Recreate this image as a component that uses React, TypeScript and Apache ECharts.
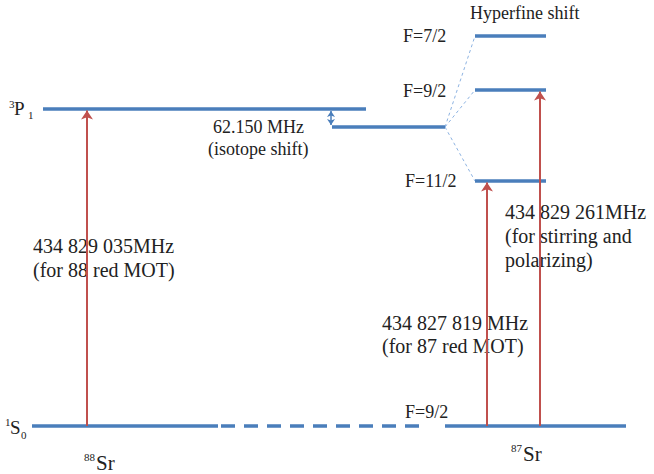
import React, { useEffect, useRef } from "react";
import * as echarts from "echarts";

// Energy levels: horizontal extent and height above the 1S0 ground level (schematic units)
const levelNames = ["3P1 (88Sr)", "1S0 (88Sr)", "1S0 (87Sr)", "3P1 (87Sr)", "F=7/2", "F=9/2", "F=11/2"];
const levelStart = [43, 32, 445, 332, 475, 475, 475];
const levelEnd = [366, 218, 626, 445, 546, 546, 546];
const levelEnergy = [317, 0, 0, 299, 390, 336, 245];

// dashed break of the ground level between the two isotopes
const groundBreak = [221, 421];

// hyperfine splitting: from the 87Sr 3P1 centre to the F sub-levels
const hyperfineOrigin = { x: 445, e: 299 };
const hyperfineLevels = [4, 5, 6];

// laser transitions (from 1S0 up to the level)
const transitionX = [87, 487, 540];
const transitionTarget = [317, 245, 336];
const transitionLabels = [
  "434 829 035MHz\n(for 88 red MOT)",
  "434 827 819 MHz\n(for 87 red MOT)",
  "434 829 261MHz\n(for stirring and\npolarizing)",
];

// isotope shift
const isotopeShiftX = 331;
const isotopeShiftLabel = "62.150 MHz\n(isotope shift)";

const BLUE = "#4a7ebb";
const RED = "#c0504d";
const TEXT = "#222";
const SERIF = "Liberation Serif";

type Ann = {
  text: string;
  x: number;
  e: number;
  size: number;
  center?: boolean;
  lh?: number;
};

const annotations: Ann[] = [
  { text: "Hyperfine shift", x: 470, e: 413, size: 18 },
  { text: "F=7/2", x: 403, e: 390, size: 18 },
  { text: "F=9/2", x: 403, e: 335, size: 18 },
  { text: "F=11/2", x: 405, e: 245, size: 18 },
  { text: "F=9/2", x: 405, e: 14, size: 18 },
  { text: isotopeShiftLabel, x: 258, e: 288, size: 18, center: true, lh: 22 },
  { text: transitionLabels[0], x: 104, e: 168, size: 20, center: true, lh: 24 },
  { text: transitionLabels[1], x: 382, e: 92, size: 20, lh: 23 },
  { text: transitionLabels[2], x: 505, e: 190, size: 20, lh: 24 },
  // term symbols and isotopes (with super/subscripts)
  { text: "3", x: 9, e: 323, size: 11 },
  { text: "P", x: 14, e: 318, size: 19 },
  { text: "1", x: 28, e: 312, size: 11 },
  { text: "1", x: 5, e: 5, size: 11 },
  { text: "S", x: 10, e: -1, size: 19 },
  { text: "0", x: 21, e: -8, size: 11 },
  { text: "88", x: 84, e: -30, size: 11 },
  { text: "Sr", x: 96, e: -36, size: 21 },
  { text: "87", x: 511, e: -21, size: 11 },
  { text: "Sr", x: 523, e: -27, size: 21 },
];

function measureWidth(text: string, size: number): number {
  try {
    const ctx = document.createElement("canvas").getContext("2d");
    if (ctx) {
      ctx.font = `${size}px ${SERIF}`;
      return ctx.measureText(text).width;
    }
  } catch (e) {
    // ignore
  }
  return text.length * size * 0.45;
}

export default function App() {
  const ref = useRef<HTMLDivElement>(null);

  useEffect(() => {
    document.body.style.margin = "0";
    if (!ref.current) return;
    const chart = echarts.init(ref.current, null, { renderer: "svg" });

    const levelData = levelNames.map((name, i) => ({
      name,
      coords: [
        [levelStart[i], levelEnergy[i]],
        [levelEnd[i], levelEnergy[i]],
      ],
    }));

    const connectorData = hyperfineLevels.map((li) => ({
      name: levelNames[li],
      coords: [
        [hyperfineOrigin.x, hyperfineOrigin.e],
        [levelStart[li], levelEnergy[li]],
      ],
    }));

    const transitionData = transitionX.map((x, i) => ({
      name: transitionLabels[i],
      coords: [
        [x, 0],
        [x, transitionTarget[i] - 1.5],
      ],
    }));

    const base: any = {
      animation: false,
      grid: { left: 0, right: 0, top: 0, bottom: 0, containLabel: false },
      xAxis: { type: "value", min: 0, max: 654, show: false },
      yAxis: { type: "value", min: -48, max: 426, show: false },
      series: [
        {
          type: "lines",
          coordinateSystem: "cartesian2d",
          silent: true,
          symbol: "none",
          lineStyle: { color: "#8db3e2", width: 1, type: [3, 3], opacity: 1, curveness: 0 },
          data: connectorData,
          z: 1,
        },
        {
          type: "lines",
          coordinateSystem: "cartesian2d",
          silent: true,
          symbol: "none",
          lineStyle: { color: BLUE, width: 3.5, opacity: 1, curveness: 0 },
          data: levelData,
          z: 2,
        },
        {
          type: "lines",
          coordinateSystem: "cartesian2d",
          silent: true,
          symbol: "none",
          lineStyle: { color: BLUE, width: 3.5, type: [14, 9], opacity: 1, curveness: 0 },
          data: [{ coords: [[groundBreak[0], 0], [groundBreak[1], 0]] }],
          z: 2,
        },
        {
          type: "lines",
          coordinateSystem: "cartesian2d",
          silent: true,
          symbol: ["none", "arrow"],
          symbolSize: [7, 9],
          lineStyle: { color: RED, width: 2, opacity: 1, curveness: 0 },
          data: transitionData,
          z: 3,
        },
        {
          type: "lines",
          coordinateSystem: "cartesian2d",
          silent: true,
          symbol: ["arrow", "arrow"],
          symbolSize: [6, 6],
          lineStyle: { color: BLUE, width: 1.5, opacity: 1, curveness: 0 },
          data: [
            {
              coords: [
                [isotopeShiftX, levelEnergy[0] - 2],
                [isotopeShiftX, levelEnergy[3] + 2],
              ],
            },
          ],
          z: 3,
        },
      ],
    };

    chart.setOption(base);

    const graphic: any[] = [];
    annotations.forEach((a) => {
      const p = chart.convertToPixel({ gridIndex: 0 }, [a.x, a.e]) as number[];
      const lines = a.text.split("\n");
      const lh = a.lh || Math.round(a.size * 1.2);
      lines.forEach((line, i) => {
        const cy = p[1] + (i - (lines.length - 1) / 2) * lh;
        const left = a.center ? p[0] - measureWidth(line, a.size) / 2 : p[0];
        graphic.push({
          type: "text",
          x: Math.round(left),
          y: Math.round(cy - a.size / 2),
          style: {
            text: line,
            fontFamily: SERIF,
            fontSize: a.size,
            fill: TEXT,
          },
        });
      });
    });

    chart.clear();
    chart.setOption({ ...base, graphic }, true);

    return () => {
      chart.dispose();
    };
  }, []);

  return <div ref={ref} style={{ width: 654, height: 474 }} />;
}
